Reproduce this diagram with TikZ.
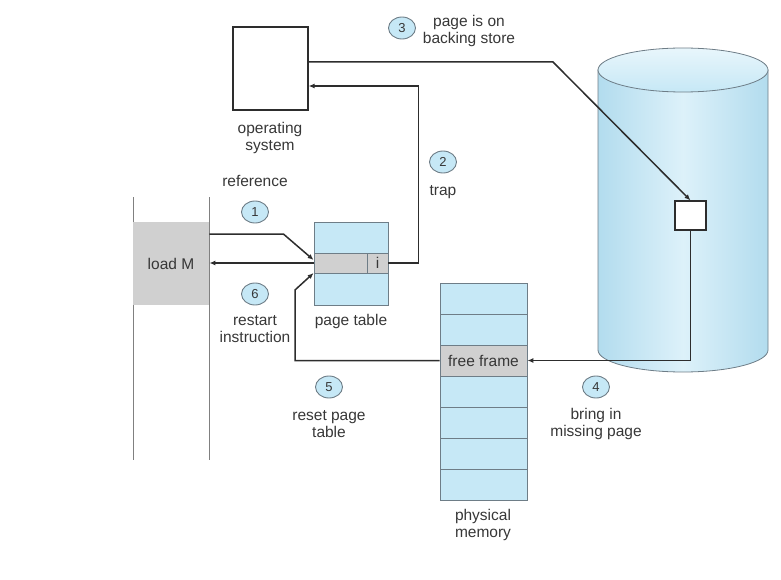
\documentclass[tikz,border=0pt]{standalone}
\usepackage{fontspec}
\setmainfont{Liberation Sans}
\usetikzlibrary{arrows.meta,shapes.geometric,calc}
\definecolor{lblue}{RGB}{198,232,246}
\definecolor{dblue}{RGB}{178,220,238}
\definecolor{cellgray}{RGB}{208,208,208}
\definecolor{txt}{RGB}{55,55,55}
\definecolor{edge}{RGB}{110,125,135}
\definecolor{wire}{RGB}{45,45,45}
\begin{document}
\begin{tikzpicture}[x=1pt,y=-1pt,
  lbl/.style={font=\fontsize{15.5}{17}\selectfont, text=txt, align=center, inner sep=0pt},
  num/.style={ellipse, draw=edge, fill=lblue, minimum width=27pt, minimum height=22pt, inner sep=0pt, font=\fontsize{13}{13}\selectfont, text=txt, line width=0.9pt},
  conn/.style={draw=wire, line width=1.5pt},
  arr/.style={-{Latex[length=6pt,width=5pt]}},
  cell/.style={draw=edge, line width=0.8pt, inner sep=0pt, font=\fontsize{15.5}{17}\selectfont, text=txt}
]
\useasboundingbox (0,0) rectangle (781,580);

% disk cylinder
\shade[left color=dblue, right color=dblue, middle color=lblue!60!white, draw=edge, line width=0.8pt]
  (598,70) -- (598,350) arc[start angle=180, end angle=0, x radius=85, y radius=22] -- (768,70) -- cycle;
\shade[top color=lblue!40!white, bottom color=lblue, draw=edge, line width=0.8pt]
  (683,70) ellipse[x radius=85, y radius=22];

% program memory lines
\draw[gray, line width=0.8pt] (133,197) -- (133,460);
\draw[gray, line width=0.8pt] (209,197) -- (209,460);

% nodes
\node[cell, draw=none, fill=cellgray, minimum width=76pt, minimum height=83pt] (loadm) at (171,263.5) {load M};
\node[cell, draw=wire, fill=white, line width=1.2pt, minimum width=75pt, minimum height=83pt] (os) at (270.5,68.5) {};
\node[cell, fill=lblue, minimum width=74pt, minimum height=83pt] (pt) at (351,263.5) {};
\node[cell, fill=cellgray, minimum width=74pt, minimum height=20pt] (ptrow) at (351,263) {};
\node[cell, fill=cellgray, minimum width=21pt, minimum height=20pt] (icell) at (377.5,263) {i};

\foreach \k in {0,...,6}{
  \node[cell, fill=lblue, minimum width=87pt, minimum height=31pt] (pm\k) at (483.5,{298.5+31*\k}) {};
}
\node[cell, fill=cellgray, minimum width=87pt, minimum height=31pt] (free) at (483.5,360.5) {free frame};

\node[cell, draw=wire, fill=white, line width=1.2pt, minimum width=31pt, minimum height=29pt] (dbox) at (690.5,215.5) {};

% labels
\node[lbl] (oslbl) at (270,138) {operating\\system};
\node[lbl] (reflbl) at (255,181) {reference};
\node[lbl] (ptlbl) at (351,321) {page table};
\node[lbl] (restartlbl) at (255,329) {restart\\instruction};
\node[lbl] (traplbl) at (443,192) {trap};
\node[lbl] (storelbl) at (469,31) {page is on\\backing store};
\node[lbl] (resetlbl) at (329,424) {reset page\\table};
\node[lbl] (bringlbl) at (596,424) {bring in\\missing page};
\node[lbl] (pmlbl) at (483,525) {physical\\memory};

% step numbers
\node[num] (n1) at (255,212) {1};
\node[num] (n2) at (443,162) {2};
\node[num] (n3) at (402,28) {3};
\node[num] (n4) at (596,387) {4};
\node[num] (n5) at (329,387) {5};
\node[num] (n6) at (255,294) {6};

% connectors
\draw[conn,arr] ([yshift=29.5pt]loadm.east) -- ++(74,0) -- ([yshift=3pt]ptrow.west);
\draw[conn,arr] (ptrow.west) -- (ptrow.west -| loadm.east);
\draw[conn,arr] (icell.east) -- ++(30,0) |- ([yshift=-17.5pt]os.east);
\draw[conn,arr] ([yshift=6.5pt]os.east) -- (553,62) -- (dbox.north);
\draw[conn,arr] (dbox.south) |- (free.east);
\draw[conn,arr] (free.west) -| (295,290) -- ([yshift=-10pt]ptrow.west);
\end{tikzpicture}
\end{document}
